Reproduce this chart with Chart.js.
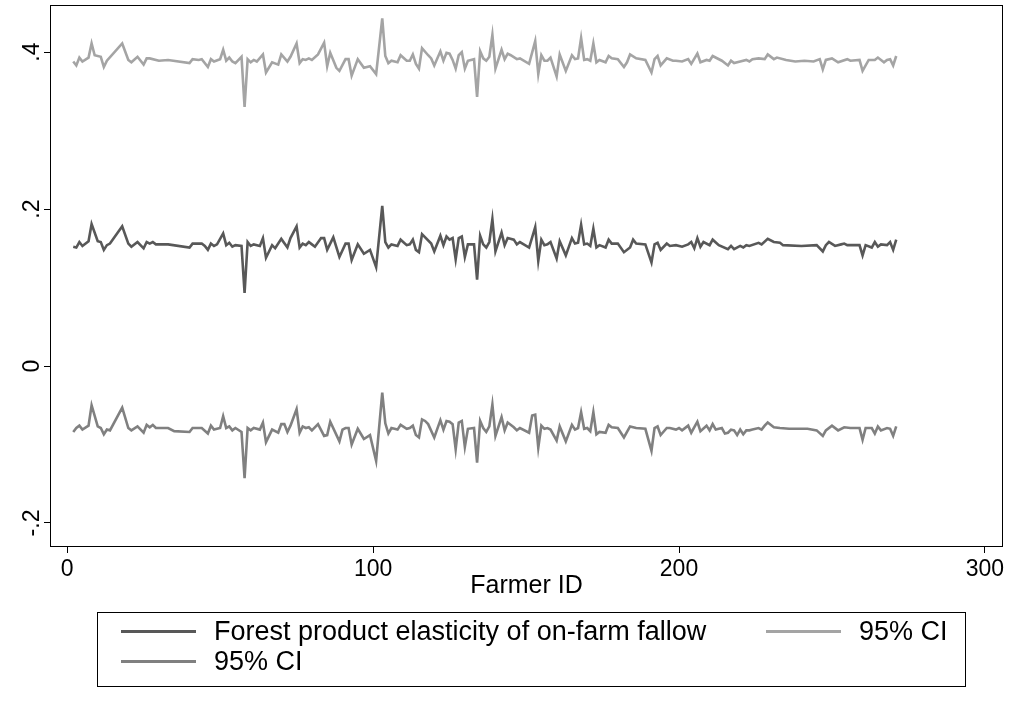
<!DOCTYPE html>
<html>
<head>
<meta charset="utf-8">
<script src="https://cdn.jsdelivr.net/npm/chart.js@4.4.1/dist/chart.umd.min.js"></script>
<style>
  html, body { margin: 0; padding: 0; background: #ffffff; }
  #wrap { position: relative; width: 1015px; height: 710px; }
  #chart { position: absolute; left: 0; top: 0; }
  #legend { position: absolute; left: 97px; top: 612px; width: 869px; height: 75px;
            border: 1px solid #000; box-sizing: border-box;
            font-family: "Liberation Sans", Arial, Helvetica, sans-serif; font-size: 27px; color: #000; }
  .lg-line { position: absolute; height: 3px; width: 75px; }
  .lg-text { position: absolute; white-space: nowrap; line-height: 30px; }
</style>
</head>
<body>
<div id="wrap">
  <canvas id="chart" width="1015" height="710"></canvas>
  <div id="legend"></div>
</div>
<script>
// ---- Data ----
const estIds = [2,3,4,5,7,8,10,11,12,13,14,18,20,21,23,25,26,27,28,29,33,40,41,44,45,46,47,48,49,51,52,53,54,55,57,58,59,60,61,63,64,65,67,68,70,72,73,75,76,77,78,79,80,81,83,84,85,87,89,91,92,93,95,97,99,101,103,104,105,106,108,109,111,112,113,114,115,116,119,120,122,123,124,125,126,127,128,129,130,131,133,134,135,136,137,138,139,140,142,143,144,146,147,148,151,153,154,155,156,157,158,160,161,163,165,166,167,168,169,170,171,172,173,174,176,177,178,180,182,184,185,186,189,191,192,193,194,196,197,199,201,203,204,205,206,207,208,210,211,213,216,217,218,220,221,222,223,226,227,229,231,233,234,240,245,247,248,249,251,253,254,255,259,260,261,263,264,265,266,268,269,270,271];
const estValues = [0.152,0.151,0.158,0.153,0.159,0.181,0.159,0.158,0.148,0.154,0.156,0.178,0.156,0.152,0.158,0.150,0.158,0.156,0.158,0.155,0.155,0.151,0.156,0.156,0.153,0.148,0.156,0.153,0.155,0.169,0.154,0.157,0.152,0.154,0.153,0.093,0.158,0.153,0.155,0.153,0.163,0.138,0.154,0.150,0.162,0.151,0.163,0.178,0.151,0.156,0.154,0.158,0.155,0.152,0.163,0.163,0.148,0.164,0.139,0.156,0.156,0.135,0.155,0.143,0.148,0.126,0.204,0.158,0.151,0.155,0.153,0.161,0.154,0.155,0.161,0.148,0.145,0.168,0.156,0.146,0.166,0.154,0.165,0.161,0.163,0.136,0.163,0.165,0.139,0.155,0.155,0.110,0.166,0.155,0.151,0.158,0.187,0.146,0.170,0.154,0.163,0.161,0.155,0.158,0.151,0.177,0.134,0.161,0.154,0.155,0.158,0.137,0.159,0.141,0.163,0.156,0.157,0.180,0.155,0.156,0.153,0.175,0.151,0.154,0.151,0.161,0.156,0.156,0.145,0.151,0.161,0.156,0.155,0.132,0.155,0.157,0.148,0.156,0.153,0.154,0.152,0.155,0.158,0.150,0.163,0.152,0.158,0.154,0.161,0.154,0.149,0.153,0.149,0.153,0.151,0.154,0.153,0.157,0.155,0.162,0.158,0.157,0.154,0.153,0.154,0.146,0.154,0.158,0.153,0.155,0.156,0.154,0.154,0.141,0.154,0.151,0.158,0.152,0.155,0.154,0.158,0.148,0.161];

const upperIds = [2,3,4,5,7,8,9,11,12,13,18,20,21,23,25,26,27,30,33,40,41,43,44,46,47,48,50,51,52,53,54,55,57,58,59,60,61,62,64,65,67,69,70,72,73,75,76,77,78,79,80,82,84,85,86,88,89,91,92,93,95,97,99,101,103,104,105,106,108,109,111,112,113,114,115,116,118,119,120,122,123,124,125,126,127,128,129,130,131,133,134,135,136,137,138,139,140,142,143,144,145,147,148,151,153,154,155,156,157,158,160,161,163,165,166,167,168,169,170,171,172,173,174,176,177,178,180,182,183,184,186,189,191,192,193,194,196,198,199,201,203,204,206,207,209,210,211,214,216,217,218,220,222,223,224,226,228,229,231,232,235,238,241,244,246,247,248,250,252,255,256,259,260,262,264,265,267,268,269,270,271];
const upperValues = [0.388,0.383,0.393,0.388,0.393,0.411,0.396,0.394,0.381,0.389,0.411,0.390,0.387,0.394,0.384,0.392,0.392,0.389,0.390,0.386,0.391,0.390,0.391,0.381,0.391,0.388,0.391,0.403,0.389,0.393,0.388,0.386,0.394,0.330,0.391,0.387,0.390,0.388,0.397,0.374,0.387,0.384,0.397,0.388,0.394,0.411,0.386,0.391,0.390,0.392,0.390,0.397,0.412,0.382,0.399,0.380,0.376,0.391,0.391,0.370,0.391,0.380,0.382,0.372,0.443,0.395,0.386,0.389,0.387,0.396,0.389,0.389,0.397,0.385,0.379,0.405,0.396,0.392,0.383,0.401,0.389,0.399,0.398,0.390,0.379,0.396,0.400,0.379,0.389,0.391,0.343,0.401,0.392,0.389,0.394,0.422,0.379,0.403,0.391,0.398,0.396,0.391,0.392,0.385,0.414,0.372,0.396,0.389,0.389,0.393,0.369,0.397,0.376,0.396,0.391,0.392,0.418,0.390,0.391,0.389,0.411,0.387,0.390,0.387,0.395,0.392,0.391,0.381,0.387,0.397,0.392,0.390,0.374,0.391,0.395,0.383,0.392,0.389,0.389,0.388,0.391,0.385,0.398,0.387,0.390,0.389,0.395,0.389,0.383,0.389,0.386,0.388,0.390,0.388,0.391,0.392,0.391,0.397,0.391,0.393,0.390,0.388,0.389,0.388,0.391,0.378,0.390,0.392,0.387,0.391,0.389,0.390,0.376,0.390,0.390,0.393,0.387,0.390,0.391,0.383,0.395];

const lowerIds = [2,3,4,5,7,8,10,11,12,13,14,18,20,21,23,25,26,27,28,29,33,35,40,41,44,46,47,48,50,51,52,53,54,55,57,58,59,60,61,63,64,65,67,69,70,71,72,73,75,76,77,78,79,80,82,84,85,86,89,90,91,92,93,95,97,99,101,103,104,105,106,108,109,111,112,113,114,115,116,117,118,120,122,123,124,125,126,127,128,129,130,131,133,134,135,136,137,138,139,140,142,143,144,146,147,148,151,152,153,154,155,156,157,158,160,161,163,165,166,167,168,169,170,171,172,173,174,176,177,178,180,182,183,184,186,189,191,192,193,194,196,197,199,200,201,203,204,206,207,209,210,211,212,214,215,216,217,218,219,220,221,222,223,224,226,227,228,229,231,233,236,242,245,247,248,250,252,254,256,259,260,261,263,264,265,266,268,269,270,271];
const lowerValues = [-0.084,-0.079,-0.076,-0.081,-0.076,-0.050,-0.077,-0.079,-0.087,-0.081,-0.082,-0.053,-0.079,-0.082,-0.077,-0.085,-0.075,-0.078,-0.075,-0.079,-0.079,-0.083,-0.084,-0.079,-0.079,-0.086,-0.076,-0.081,-0.079,-0.064,-0.079,-0.077,-0.082,-0.079,-0.084,-0.143,-0.079,-0.082,-0.079,-0.081,-0.072,-0.097,-0.081,-0.085,-0.074,-0.074,-0.084,-0.076,-0.055,-0.085,-0.077,-0.079,-0.078,-0.082,-0.074,-0.089,-0.088,-0.071,-0.096,-0.081,-0.079,-0.079,-0.100,-0.080,-0.093,-0.088,-0.121,-0.034,-0.073,-0.086,-0.079,-0.081,-0.075,-0.080,-0.079,-0.076,-0.088,-0.091,-0.068,-0.070,-0.074,-0.091,-0.069,-0.081,-0.070,-0.071,-0.074,-0.106,-0.072,-0.070,-0.103,-0.080,-0.079,-0.123,-0.070,-0.079,-0.084,-0.077,-0.049,-0.089,-0.065,-0.082,-0.072,-0.078,-0.082,-0.079,-0.085,-0.063,-0.062,-0.104,-0.076,-0.080,-0.079,-0.081,-0.095,-0.077,-0.096,-0.075,-0.081,-0.079,-0.059,-0.080,-0.079,-0.083,-0.059,-0.087,-0.084,-0.085,-0.075,-0.078,-0.079,-0.091,-0.084,-0.077,-0.079,-0.080,-0.108,-0.079,-0.077,-0.088,-0.079,-0.079,-0.081,-0.079,-0.082,-0.076,-0.085,-0.071,-0.083,-0.076,-0.082,-0.074,-0.081,-0.079,-0.086,-0.085,-0.081,-0.082,-0.088,-0.081,-0.087,-0.082,-0.082,-0.081,-0.079,-0.081,-0.076,-0.072,-0.078,-0.079,-0.080,-0.080,-0.082,-0.089,-0.082,-0.076,-0.082,-0.078,-0.079,-0.079,-0.094,-0.079,-0.079,-0.086,-0.077,-0.082,-0.079,-0.080,-0.089,-0.077];

const seriesLabels = ['Forest product elasticity of on-farm fallow', '95% CI', '95% CI'];
const xTickValues = [0, 100, 200, 300];
const xTickLabels = ['0', '100', '200', '300'];
const yTickValues = [-0.2, 0, 0.2, 0.4];
const yTickLabels = ['-.2', '0', '.2', '.4'];
const xTitle = 'Farmer ID';

// ---- Chart ----
const FONT = '"Liberation Sans", Arial, Helvetica, sans-serif';
const toPoints = (xs, ys) => xs.map((x, i) => ({ x: x, y: ys[i] }));

const framePlugin = {
  id: 'frame',
  afterDraw(chart) {
    const { ctx, chartArea: a } = chart;
    ctx.save();
    ctx.strokeStyle = '#000';
    ctx.lineWidth = 1;
    ctx.strokeRect(a.left + 0.5, a.top + 0.5, a.right - a.left - 1, a.bottom - a.top - 1);
    ctx.restore();
  }
};

const yLabelPlugin = {
  id: 'yLabels',
  afterDraw(chart) {
    const { ctx } = chart;
    const s = chart.scales.y;
    ctx.save();
    ctx.fillStyle = '#000';
    ctx.font = '23px ' + FONT;
    ctx.textAlign = 'center';
    ctx.textBaseline = 'alphabetic';
    s.ticks.forEach((t, i) => {
      const py = s.getPixelForValue(t.value);
      ctx.save();
      ctx.translate(s.right - 11, py);
      ctx.rotate(-Math.PI / 2);
      ctx.fillText(yTickLabels[i], 0, 0);
      ctx.restore();
    });
    ctx.restore();
  }
};

const chart = new Chart(document.getElementById('chart'), {
  type: 'line',
  data: {
    datasets: [
      { label: seriesLabels[0], data: toPoints(estIds, estValues), borderColor: '#585858' },
      { label: seriesLabels[1], data: toPoints(upperIds, upperValues), borderColor: '#a4a4a4' },
      { label: seriesLabels[2], data: toPoints(lowerIds, lowerValues), borderColor: '#808080' }
    ]
  },
  options: {
    responsive: false,
    animation: false,
    devicePixelRatio: 1,
    datasets: { line: { borderWidth: 2.6, pointRadius: 0, tension: 0, fill: false } },
    elements: { line: { borderJoinStyle: 'miter' } },
    layout: { padding: { left: 0, top: 5, right: 12, bottom: 105 } },
    plugins: { legend: { display: false }, tooltip: { enabled: false } },
    scales: {
      x: {
        type: 'linear', min: -5.6, max: 305.9,
        afterBuildTicks: s => { s.ticks = xTickValues.map(v => ({ value: v })); },
        afterFit: s => { s.height = 58; },
        ticks: { autoSkip: false, maxRotation: 0, padding: 3, color: '#000',
                 font: { family: FONT, size: 23 },
                 callback: (v, i) => xTickLabels[i] },
        grid: { drawOnChartArea: false, drawTicks: true, tickLength: 6, color: '#000', lineWidth: 1 },
        border: { display: false },
        title: { display: true, text: xTitle, color: '#000', font: { family: FONT, size: 25 }, padding: { top: 0, bottom: 4 } }
      },
      y: {
        type: 'linear', min: -0.2306, max: 0.46,
        afterBuildTicks: s => { s.ticks = yTickValues.map(v => ({ value: v })); },
        afterFit: s => { s.width = 50; },
        ticks: { display: false },
        grid: { drawOnChartArea: false, drawTicks: true, tickLength: 6, color: '#000', lineWidth: 1 },
        border: { display: false }
      }
    }
  },
  plugins: [framePlugin, yLabelPlugin]
});

// ---- HTML legend built from the chart's datasets ----
const legendSlots = [
  { lineLeft: 23, textLeft: 116, cy: 18 },
  { lineLeft: 668, textLeft: 761, cy: 18 },
  { lineLeft: 23, textLeft: 116, cy: 48 }
];
const legend = document.getElementById('legend');
chart.data.datasets.forEach((ds, i) => {
  const slot = legendSlots[i];
  const ln = document.createElement('div');
  ln.className = 'lg-line';
  ln.style.left = slot.lineLeft + 'px';
  ln.style.top = (slot.cy - 1.5) + 'px';
  ln.style.background = ds.borderColor;
  legend.appendChild(ln);
  const tx = document.createElement('div');
  tx.className = 'lg-text';
  tx.style.left = slot.textLeft + 'px';
  tx.style.top = (slot.cy - 15) + 'px';
  tx.textContent = ds.label;
  legend.appendChild(tx);
});
</script>
</body>
</html>
